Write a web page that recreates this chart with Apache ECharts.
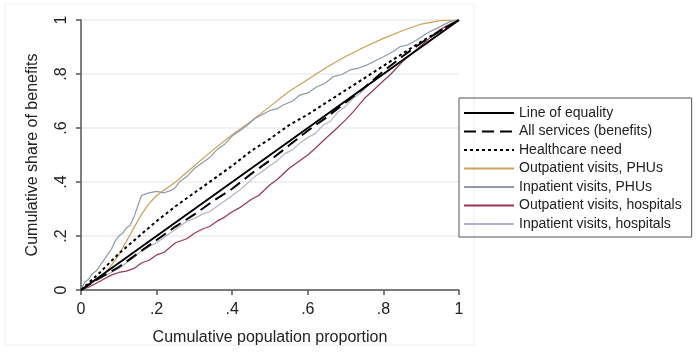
<!DOCTYPE html>
<html>
<head>
<meta charset="utf-8">
<script src="https://cdn.jsdelivr.net/npm/echarts@6/dist/echarts.min.js"></script>
<style>
  html, body { margin: 0; padding: 0; background: #fff; }
  #main { width: 700px; height: 357px; }
</style>
</head>
<body>
<div id="main"></div>
<script>
// axis ticks
var tickValues = [0, 0.2, 0.4, 0.6, 0.8, 1];

// concentration curves, [population proportion, share of benefits]
var lineOfEquality = [[0, 0], [1, 1]];

var allServices = [[0, 0], [0.05, 0.045], [0.1, 0.085], [0.15, 0.135], [0.2, 0.185], [0.25, 0.235],
  [0.3, 0.28], [0.35, 0.33], [0.4, 0.375], [0.45, 0.43], [0.5, 0.48], [0.55, 0.535], [0.6, 0.59],
  [0.65, 0.64], [0.7, 0.695], [0.75, 0.75], [0.8, 0.81], [0.85, 0.865], [0.9, 0.915], [0.95, 0.96], [1, 1]];

var healthcareNeed = [[0, 0], [0.05, 0.065], [0.1, 0.135], [0.15, 0.195], [0.2, 0.255], [0.25, 0.31],
  [0.3, 0.36], [0.35, 0.41], [0.4, 0.46], [0.45, 0.515], [0.5, 0.56], [0.55, 0.61], [0.6, 0.65],
  [0.65, 0.695], [0.7, 0.74], [0.75, 0.785], [0.8, 0.83], [0.85, 0.875], [0.9, 0.92], [0.95, 0.96], [1, 1]];

var outpatientPHUs = [[0, 0], [0.03, 0.03], [0.06, 0.06], [0.08, 0.09], [0.1, 0.13], [0.12, 0.18],
  [0.14, 0.23], [0.16, 0.28], [0.18, 0.32], [0.2, 0.35], [0.25, 0.4], [0.3, 0.46], [0.35, 0.52],
  [0.4, 0.575], [0.45, 0.625], [0.5, 0.68], [0.55, 0.735], [0.6, 0.78], [0.65, 0.825], [0.7, 0.865],
  [0.75, 0.9], [0.8, 0.932], [0.85, 0.96], [0.9, 0.985], [0.95, 0.998], [1, 1]];

var inpatientPHUs = [[0, 0], [0.01, 0.03], [0.02, 0.04], [0.03, 0.06], [0.04, 0.07], [0.05, 0.09],
  [0.06, 0.11], [0.07, 0.13], [0.08, 0.15], [0.09, 0.18], [0.1, 0.2], [0.11, 0.21], [0.12, 0.23],
  [0.13, 0.24], [0.14, 0.27], [0.15, 0.31], [0.16, 0.35], [0.17, 0.355], [0.18, 0.36], [0.2, 0.365],
  [0.22, 0.36], [0.24, 0.37], [0.25, 0.38], [0.26, 0.4], [0.27, 0.41], [0.28, 0.42], [0.3, 0.45],
  [0.32, 0.47], [0.34, 0.49], [0.36, 0.52], [0.38, 0.54], [0.4, 0.57], [0.42, 0.59], [0.44, 0.61],
  [0.46, 0.635], [0.48, 0.65], [0.5, 0.665], [0.52, 0.672], [0.535, 0.685], [0.56, 0.7], [0.579, 0.722],
  [0.6, 0.73], [0.624, 0.753], [0.645, 0.765], [0.667, 0.79], [0.69, 0.798], [0.712, 0.815],
  [0.735, 0.822], [0.756, 0.833], [0.78, 0.85], [0.8, 0.864], [0.826, 0.883], [0.844, 0.901],
  [0.865, 0.908], [0.888, 0.926], [0.915, 0.951], [0.941, 0.969], [0.976, 0.994], [1, 1]];

var outpatientHospitals = [[0, 0], [0.02, 0.01], [0.04, 0.025], [0.06, 0.04], [0.08, 0.055], [0.1, 0.065],
  [0.12, 0.07], [0.14, 0.08], [0.16, 0.1], [0.18, 0.11], [0.2, 0.13], [0.22, 0.14], [0.25, 0.175],
  [0.28, 0.19], [0.3, 0.21], [0.32, 0.225], [0.34, 0.235], [0.36, 0.255], [0.38, 0.27], [0.4, 0.29],
  [0.42, 0.305], [0.45, 0.335], [0.47, 0.35], [0.5, 0.39], [0.52, 0.41], [0.55, 0.45], [0.57, 0.47],
  [0.6, 0.5], [0.62, 0.525], [0.65, 0.565], [0.67, 0.59], [0.7, 0.63], [0.72, 0.66], [0.75, 0.71],
  [0.77, 0.735], [0.8, 0.775], [0.82, 0.8], [0.85, 0.845], [0.87, 0.87], [0.9, 0.905], [0.92, 0.93],
  [0.95, 0.965], [0.97, 0.98], [1, 1]];

var inpatientHospitals = [[0, 0], [0.02, 0.02], [0.04, 0.035], [0.06, 0.05], [0.08, 0.065], [0.1, 0.08],
  [0.12, 0.1], [0.14, 0.12], [0.16, 0.145], [0.18, 0.16], [0.2, 0.175], [0.22, 0.195], [0.24, 0.215],
  [0.26, 0.235], [0.28, 0.255], [0.3, 0.265], [0.32, 0.28], [0.34, 0.29], [0.36, 0.31], [0.38, 0.33],
  [0.4, 0.35], [0.42, 0.37], [0.44, 0.395], [0.46, 0.42], [0.48, 0.44], [0.5, 0.46], [0.52, 0.48],
  [0.54, 0.505], [0.56, 0.52], [0.58, 0.545], [0.6, 0.565], [0.62, 0.58], [0.64, 0.61], [0.66, 0.625],
  [0.68, 0.66], [0.7, 0.68], [0.72, 0.71], [0.74, 0.73], [0.76, 0.76], [0.78, 0.78], [0.8, 0.8],
  [0.84, 0.84], [0.88, 0.88], [0.92, 0.92], [0.96, 0.96], [1, 1]];

var seriesNames = ['Line of equality', 'All services (benefits)', 'Healthcare need',
  'Outpatient visits, PHUs', 'Inpatient visits, PHUs', 'Outpatient visits, hospitals', 'Inpatient visits, hospitals'];

var font = 'Liberation Sans, Arial, sans-serif';

function fmt(v) {
  // Stata style: .2 instead of 0.2
  if (v === 0 || v === 1) return String(v);
  return String(Number(v.toFixed(1))).replace(/^0/, '');
}

function mkLine(name, data, color, width, type, z) {
  return {
    name: name,
    type: 'line',
    data: data,
    symbol: 'none',
    z: z,
    lineStyle: { color: color, width: width, type: type },
    itemStyle: { color: color }
  };
}

var myChart = echarts.init(document.getElementById('main'));
myChart.setOption({
  animation: false,
  backgroundColor: '#fff',
  grid: { left: 81, right: 241, top: 20, bottom: 67 },
  graphic: [{
    type: 'rect',
    shape: { x: 5, y: 4, width: 469, height: 341 },
    style: { fill: 'none', stroke: '#efefef', lineWidth: 1 },
    silent: true
  }],
  legend: {
    orient: 'vertical',
    left: 459,
    top: 98,
    data: seriesNames,
    itemWidth: 50,
    itemHeight: 14,
    itemGap: 4.5,
    padding: [8, 10, 6, 4],
    borderColor: '#555',
    borderWidth: 1,
    itemStyle: { opacity: 0 },
    textStyle: { fontFamily: font, fontSize: 14, color: '#222' }
  },
  xAxis: {
    type: 'value',
    min: 0, max: 1, interval: 0.2,
    name: 'Cumulative population proportion',
    nameLocation: 'middle',
    nameGap: 40,
    nameTextStyle: { fontFamily: font, fontSize: 16, color: '#222' },
    axisLine: { show: true, lineStyle: { color: '#555', width: 1.5 } },
    axisTick: { show: true, length: 5, lineStyle: { color: '#555', width: 1.5 } },
    axisLabel: { formatter: fmt, margin: 12, fontFamily: font, fontSize: 16, color: '#222' },
    splitLine: { show: false }
  },
  yAxis: {
    type: 'value',
    min: 0, max: 1, interval: 0.2,
    name: 'Cumulative share of benefits',
    nameLocation: 'middle',
    nameGap: 40,
    nameTextStyle: { fontFamily: font, fontSize: 16, color: '#222' },
    axisLine: { show: true, lineStyle: { color: '#555', width: 1.5 } },
    axisTick: { show: true, length: 5, lineStyle: { color: '#555', width: 1.5 } },
    axisLabel: { formatter: fmt, rotate: 90, margin: 11, fontFamily: font, fontSize: 16, color: '#222' },
    splitLine: { show: true, lineStyle: { color: '#e9eef0', width: 1.5 } }
  },
  series: [
    mkLine(seriesNames[0], lineOfEquality, '#000', 2, 'solid', 6),
    mkLine(seriesNames[1], allServices, '#000', 2, [12, 6], 5),
    mkLine(seriesNames[2], healthcareNeed, '#000', 2, [3, 3], 5),
    mkLine(seriesNames[3], outpatientPHUs, '#c9a25a', 1.2, 'solid', 2),
    mkLine(seriesNames[4], inpatientPHUs, '#8e9ba6', 1.2, 'solid', 2),
    mkLine(seriesNames[5], outpatientHospitals, '#9b3556', 1.2, 'solid', 2),
    mkLine(seriesNames[6], inpatientHospitals, '#b3b3c6', 1.2, 'solid', 2)
  ]
});
</script>
</body>
</html>
